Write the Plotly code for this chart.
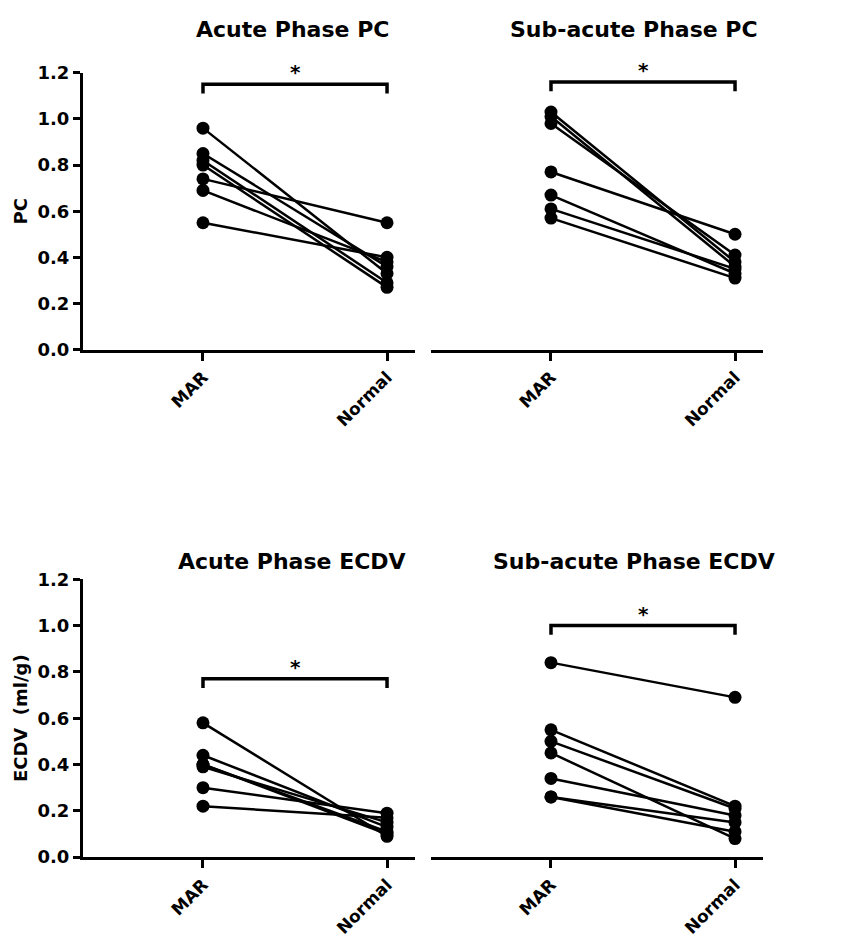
import plotly.graph_objects as go

categories = ["MAR", "Normal"]

panel_titles = ["Acute Phase PC", "Sub-acute Phase PC", "Acute Phase ECDV", "Sub-acute Phase ECDV"]

acute_pc_mar = [0.96, 0.85, 0.82, 0.80, 0.74, 0.69, 0.55]
acute_pc_normal = [0.33, 0.36, 0.29, 0.27, 0.55, 0.38, 0.40]

subacute_pc_mar = [1.03, 1.01, 0.98, 0.77, 0.67, 0.61, 0.57]
subacute_pc_normal = [0.38, 0.36, 0.41, 0.50, 0.33, 0.35, 0.31]

acute_ecdv_mar = [0.58, 0.44, 0.40, 0.40, 0.39, 0.30, 0.22]
acute_ecdv_normal = [0.09, 0.13, 0.10, 0.11, 0.15, 0.19, 0.17]

subacute_ecdv_mar = [0.84, 0.55, 0.50, 0.45, 0.34, 0.26, 0.26]
subacute_ecdv_normal = [0.69, 0.22, 0.21, 0.08, 0.18, 0.15, 0.11]

bracket_levels = [1.15, 1.16, 0.77, 1.00]

y_ticks = [0.0, 0.2, 0.4, 0.6, 0.8, 1.0, 1.2]
y_titles = ["PC", "ECDV  (ml/g)"]

panels = [
    (acute_pc_mar, acute_pc_normal),
    (subacute_pc_mar, subacute_pc_normal),
    (acute_ecdv_mar, acute_ecdv_normal),
    (subacute_ecdv_mar, subacute_ecdv_normal),
]

W, H = 842, 938
FONT = "DejaVu Sans, Liberation Sans, Arial, sans-serif"

# pixel layout
x_dom_px = [(83, 415), (431, 763)]
y_dom_px = [(64, 351), (589, 877)]
title_y_px = [19, 571]

fig = go.Figure()
layout = dict(
    width=W, height=H, margin=dict(l=0, r=0, t=0, b=0),
    paper_bgcolor="white", plot_bgcolor="white", showlegend=False,
    font=dict(family=FONT, color="black"),
)
annotations = []
shapes = []

for i, (mar, nor) in enumerate(panels):
    row, col = divmod(i, 2)
    ax = "" if i == 0 else str(i + 1)
    xref, yref = "x" + ax, "y" + ax
    for a, b in zip(mar, nor):
        fig.add_trace(go.Scatter(
            x=categories, y=[a, b], mode="lines+markers",
            xaxis=xref, yaxis=yref,
            line=dict(color="black", width=2.5),
            marker=dict(size=13, color="black"),
            cliponaxis=False, hoverinfo="skip",
        ))
    x0, x1 = x_dom_px[col]
    ytop, ybot = y_dom_px[row]
    layout["xaxis" + ax] = dict(
        domain=[x0 / W, x1 / W], anchor=yref,
        type="category", range=[-0.652, 1.152],
        tickvals=categories, ticktext=["<b>" + c + "</b>" for c in categories],
        showline=True, linecolor="black", linewidth=3,
        ticks="outside", ticklen=8, tickwidth=3, tickcolor="black",
        tickangle=-45, showgrid=False, zeroline=False,
        tickfont=dict(family=FONT, size=17, color="black"),
        fixedrange=True,
    )
    ydict = dict(
        domain=[1 - ybot / H, 1 - ytop / H], anchor=xref,
        range=[0, 1.2], showgrid=False, zeroline=False, fixedrange=True,
    )
    if col == 0:
        ydict.update(
            showline=True, linecolor="black", linewidth=3,
            ticks="outside", ticklen=7, tickwidth=2.5, tickcolor="black",
            tickvals=y_ticks, ticktext=[f"<b>{v:.1f}</b>" for v in y_ticks],
            tickfont=dict(family=FONT, size=18, color="black"),
            title=dict(text="<b>" + y_titles[row] + "</b>", standoff=6,
                       font=dict(family=FONT, size=18, color="black")),
        )
    else:
        ydict.update(visible=False)
    layout["yaxis" + ax] = ydict

    # title
    annotations.append(dict(
        text="<b>" + panel_titles[i] + "</b>", xref="x" + ax + " domain", yref="paper",
        x=0.63 if col == 0 else 0.61, y=1 - title_y_px[row] / H,
        showarrow=False, font=dict(family=FONT, size=22, color="black"),
        xanchor="center", yanchor="middle",
    ))
    # significance bracket
    lvl = bracket_levels[i]
    drop = 0.04
    shapes.append(dict(
        type="path", xref=xref, yref=yref,
        path=f"M 0,{lvl - drop} L 0,{lvl} L 1,{lvl} L 1,{lvl - drop}",
        line=dict(color="black", width=3.5),
    ))
    annotations.append(dict(
        text="<b>*</b>", x=0.5, y=lvl, xref=xref, yref=yref,
        showarrow=False, yanchor="bottom", yshift=-2,
        font=dict(family=FONT, size=20, color="black"),
    ))

layout["annotations"] = annotations
layout["shapes"] = shapes
fig.update_layout(**layout)
fig.write_html("out.html")
